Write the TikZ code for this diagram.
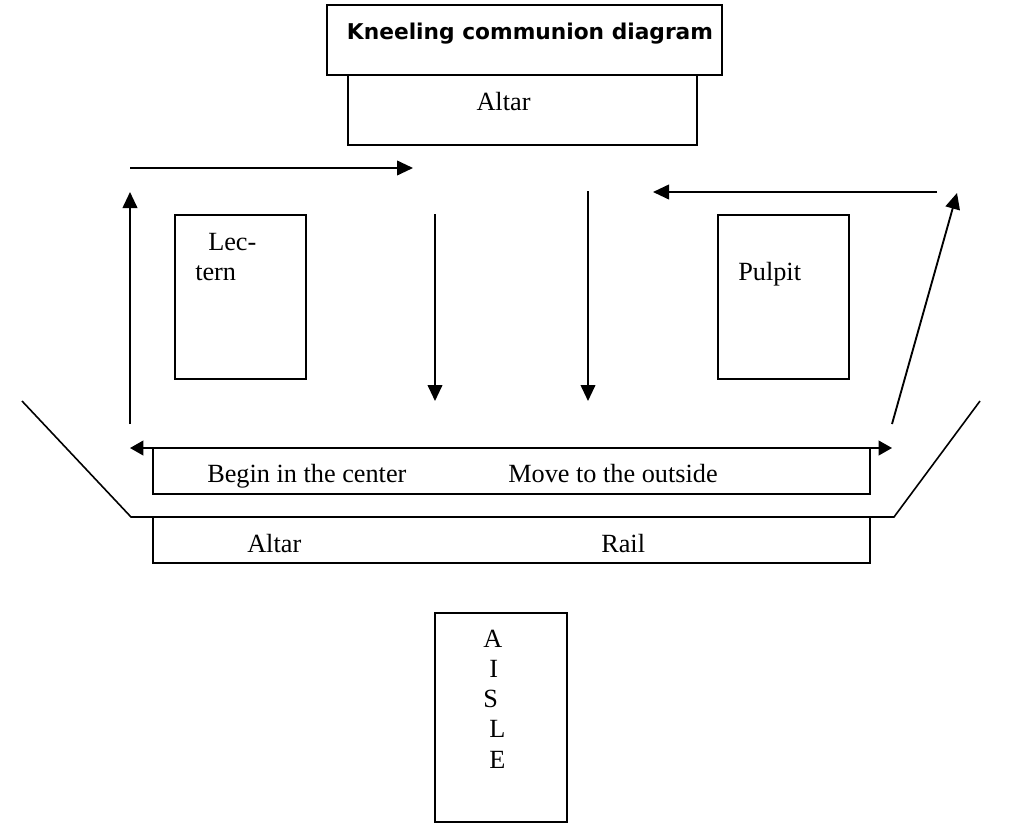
\documentclass[tikz,border=0pt]{standalone}
\usepackage{fontspec}
\setmainfont{Liberation Serif}
\newfontfamily\titlefont{DejaVu Sans}
\usetikzlibrary{arrows.meta}
\begin{document}
\begin{tikzpicture}[x=0.75pt,y=-0.75pt,
  box/.style={draw,line width=1.4pt,inner sep=0pt,minimum width=#1},
  lbl/.style={inner sep=0pt,anchor=base west,font=\fontsize{19.7pt}{23pt}\selectfont},
  flow/.style={line width=1.4pt,-{Triangle[length=12pt,width=11pt]}},
  rail/.style={line width=1.2pt}]
\useasboundingbox (0,0) rectangle (1024,825);
% boxes
\node[box=296.25pt,minimum height=52.5pt] (title) at (524.5,40) {};
\node[inner sep=0pt,anchor=base,font=\titlefont\bfseries\fontsize{16.3pt}{19pt}\selectfont] (titletext) at (530,39.3) {Kneeling communion diagram};
\node[box=261.75pt,minimum height=52.5pt] (altar) at (522.5,110) {};
\node[inner sep=0pt,anchor=base,font=\fontsize{19.7pt}{23pt}\selectfont] (altartext) at (503.5,110.7) {Altar};
\node[box=98.25pt,minimum height=123pt] (lectern) at (240.5,297) {};
\node[lbl] (lec1) at (208,250.5) {Lec-};
\node[lbl] (lec2) at (195,280.5) {tern};
\node[box=98.25pt,minimum height=123pt] (pulpit) at (783.5,297) {};
\node[lbl] (pulpittext) at (738,280.7) {Pulpit};
\node[box=537.75pt,minimum height=34.5pt] (kneel) at (511.5,471) {};
\node[lbl] (begin) at (207,482) {Begin in the center};
\node[lbl] (move) at (508,482) {Move to the outside};
\node[box=537.75pt,minimum height=34.5pt] (railbox) at (511.5,540) {};
\node[lbl] (railA) at (247,552) {Altar};
\node[lbl] (railR) at (601,552) {Rail};
\node[box=99pt,minimum height=156.75pt] (aisle) at (501,717.5) {};
\node[lbl] (aA) at (483,647) {A};
\node[lbl] (aI) at (489,677) {I};
\node[lbl] (aS) at (483,707) {S};
\node[lbl] (aL) at (489,737.5) {L};
\node[lbl] (aE) at (489,768) {E};
% rail outline
\coordinate (t1) at (22,401);
\coordinate (t2) at (131,517);
\coordinate (t3) at (894,517);
\coordinate (t4) at (980,401);
\draw[rail] (t1) -- (t2) -- (t3) -- (t4);
% arrows
\coordinate (a1s) at (130,168); \coordinate (a1e) at (413,168);
\coordinate (a2s) at (130,424); \coordinate (a2e) at (130,192);
\coordinate (a3s) at (435,214); \coordinate (a3e) at (435,401);
\coordinate (a4s) at (588,191); \coordinate (a4e) at (588,401);
\coordinate (a5s) at (937,192); \coordinate (a5e) at (653,192);
\coordinate (a6s) at (892,424); \coordinate (a6e) at (957,193);
\coordinate (d1) at (130,448); \coordinate (d2) at (892,448);
\draw[flow] (a1s) -- (a1e);
\draw[flow] (a2s) -- (a2e);
\draw[flow] (a3s) -- (a3e);
\draw[flow] (a4s) -- (a4e);
\draw[flow] (a5s) -- (a5e);
\draw[flow] (a6s) -- (a6e);
\draw[line width=1.4pt,{Triangle[length=10pt,width=11pt]}-{Triangle[length=10pt,width=11pt]}] (d1) -- (d2);
\end{tikzpicture}
\end{document}
